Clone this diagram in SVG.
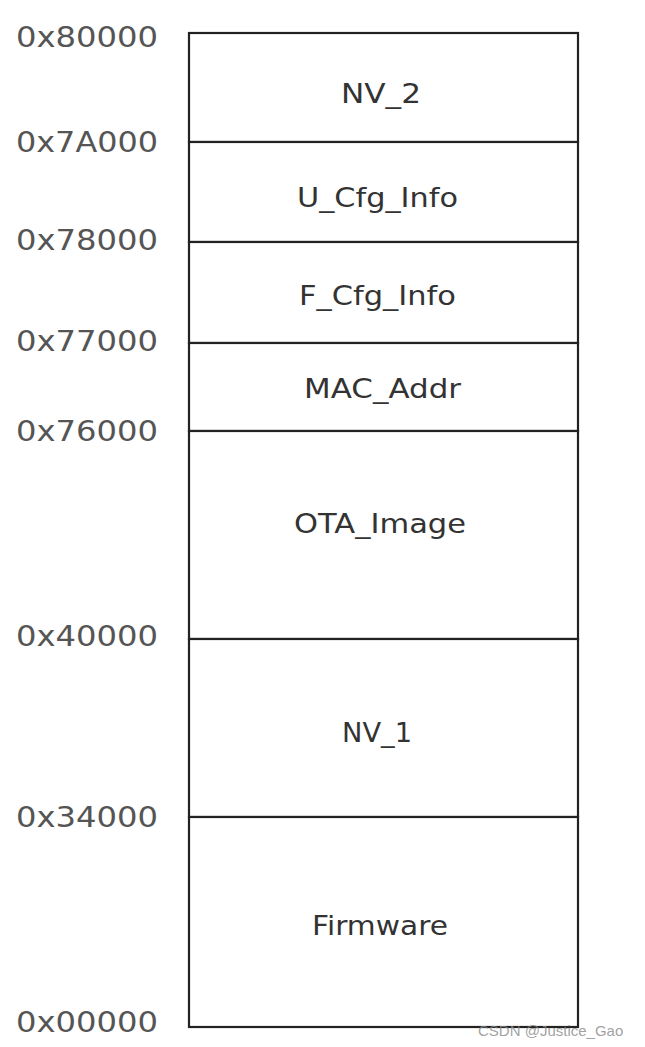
<svg xmlns="http://www.w3.org/2000/svg" width="645" height="1047" viewBox="0 0 645 1047">
<style>
.addr{font-family:"DejaVu Sans",sans-serif;font-size:28px;fill:#555}
.lbl{font-family:"DejaVu Sans",sans-serif;font-size:27px;fill:#333}
.box{fill:#fff;stroke:#222;stroke-width:2.2}
.wm{font-family:"Liberation Sans",sans-serif;font-size:15px;fill:#888;fill-opacity:0.8}
</style>
<rect width="645" height="1047" fill="#fff"/>
<g id="addresses">
<text class="addr" x="16" y="47" textLength="142" lengthAdjust="spacingAndGlyphs">0x80000</text>
<text class="addr" x="16" y="152" textLength="142" lengthAdjust="spacingAndGlyphs">0x7A000</text>
<text class="addr" x="16" y="250" textLength="142" lengthAdjust="spacingAndGlyphs">0x78000</text>
<text class="addr" x="16" y="351" textLength="142" lengthAdjust="spacingAndGlyphs">0x77000</text>
<text class="addr" x="16" y="441" textLength="142" lengthAdjust="spacingAndGlyphs">0x76000</text>
<text class="addr" x="16" y="646" textLength="142" lengthAdjust="spacingAndGlyphs">0x40000</text>
<text class="addr" x="16" y="827" textLength="142" lengthAdjust="spacingAndGlyphs">0x34000</text>
<text class="addr" x="16" y="1032" textLength="142" lengthAdjust="spacingAndGlyphs">0x00000</text>
</g>
<g id="nv2"><rect class="box" x="189" y="33" width="389" height="109"/><text class="lbl" x="341" y="103" textLength="80" lengthAdjust="spacingAndGlyphs">NV_2</text></g>
<g id="ucfg"><rect class="box" x="189" y="142" width="389" height="100"/><text class="lbl" x="297" y="207" textLength="161" lengthAdjust="spacingAndGlyphs">U_Cfg_Info</text></g>
<g id="fcfg"><rect class="box" x="189" y="242" width="389" height="101"/><text class="lbl" x="299" y="305" textLength="157" lengthAdjust="spacingAndGlyphs">F_Cfg_Info</text></g>
<g id="mac"><rect class="box" x="189" y="343" width="389" height="88"/><text class="lbl" x="304" y="398" textLength="157" lengthAdjust="spacingAndGlyphs">MAC_Addr</text></g>
<g id="ota"><rect class="box" x="189" y="431" width="389" height="208"/><text class="lbl" x="294" y="533" textLength="172" lengthAdjust="spacingAndGlyphs">OTA_Image</text></g>
<g id="nv1"><rect class="box" x="189" y="639" width="389" height="178"/><text class="lbl" x="342" y="742" textLength="70" lengthAdjust="spacingAndGlyphs">NV_1</text></g>
<g id="firmware"><rect class="box" x="189" y="817" width="389" height="210"/><text class="lbl" x="312" y="935" textLength="136" lengthAdjust="spacingAndGlyphs">Firmware</text></g>
<g id="connectors"></g>
<text class="wm" x="478" y="1036">CSDN @Justice_Gao</text>
</svg>
